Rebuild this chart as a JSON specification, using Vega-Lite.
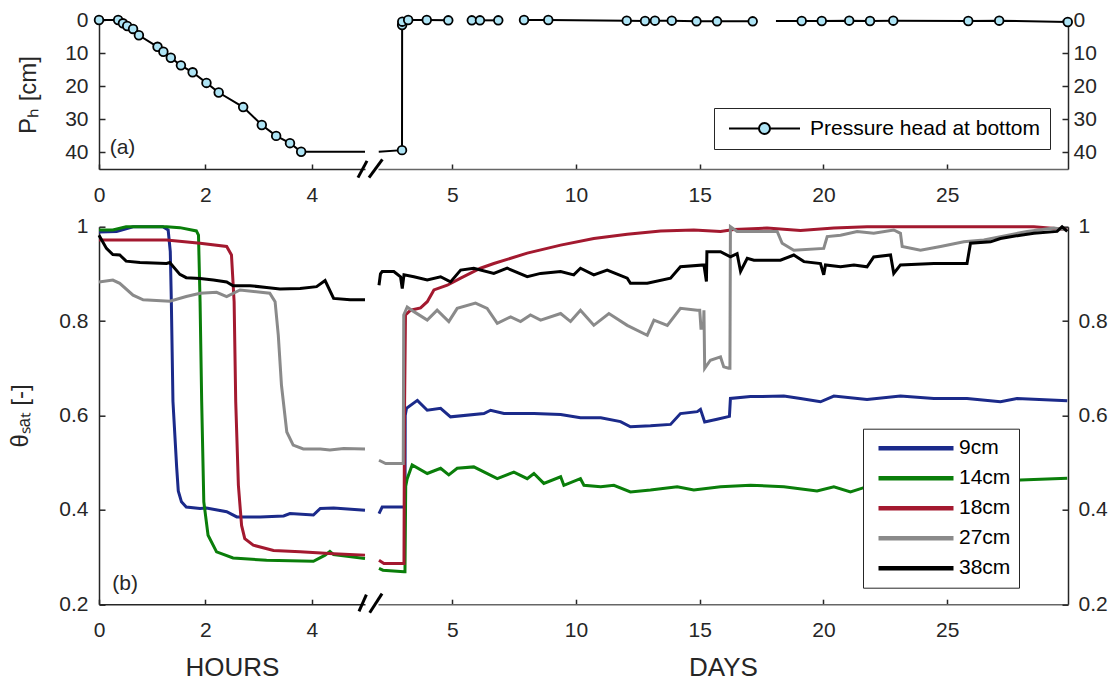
{
"$schema": "https://vega.github.io/schema/vega-lite/v6.json",
"padding": {"left": 8, "top": 9, "right": 5, "bottom": 5},
"config": {
 "view": {"stroke": null},
 "font": "Liberation Sans",
 "axis": {"labelFont": "Liberation Sans", "labelFontSize": 21, "labelColor": "#262626", "titleFont": "Liberation Sans", "titleFontSize": 24, "titleFontWeight": "normal", "titleColor": "#262626", "domainColor": "#262626", "domainWidth": 1.5, "tickColor": "#262626", "tickWidth": 1.5, "tickSize": -5, "grid": false, "labelFlush": false, "labelOverlap": false}
},
"datasets": {
 "phh": [{"t":0,"v":0,"m":1},{"t":0.36,"v":0,"m":1},{"t":0.45,"v":1.0,"m":1},{"t":0.53,"v":1.8,"m":1},{"t":0.64,"v":2.7,"m":1},{"t":0.75,"v":4.6,"m":1},{"t":1.1,"v":8.1,"m":1},{"t":1.21,"v":9.6,"m":1},{"t":1.35,"v":11.4,"m":1},{"t":1.54,"v":13.7,"m":1},{"t":1.76,"v":15.8,"m":1},{"t":2.02,"v":19.0,"m":1},{"t":2.25,"v":21.9,"m":1},{"t":2.71,"v":26.3,"m":1},{"t":3.06,"v":31.7,"m":1},{"t":3.33,"v":35.0,"m":1},{"t":3.59,"v":37.2,"m":1},{"t":3.8,"v":39.8,"m":1},{"t":5.0,"v":39.8,"m":0}],
 "phd": [{"g":1,"t":2.03,"v":39.8,"m":0},{"g":1,"t":2.97,"v":39.3,"m":1},{"g":1,"t":2.975,"v":1.5,"m":1},{"g":1,"t":2.98,"v":0.5,"m":1},{"g":1,"t":3.22,"v":0,"m":1},{"g":1,"t":3.97,"v":0,"m":1},{"g":1,"t":4.84,"v":0.1,"m":1},
  {"g":2,"t":5.79,"v":0.1,"m":1},{"g":2,"t":6.12,"v":0.1,"m":1},{"g":2,"t":6.86,"v":0.1,"m":1},
  {"g":3,"t":7.9,"v":0,"m":1},{"g":3,"t":8.88,"v":0,"m":1},{"g":3,"t":12.05,"v":0.2,"m":1},{"g":3,"t":12.79,"v":0.3,"m":1},{"g":3,"t":13.19,"v":0.2,"m":1},{"g":3,"t":13.87,"v":0.2,"m":1},{"g":3,"t":14.87,"v":0.4,"m":1},{"g":3,"t":15.7,"v":0.4,"m":1},{"g":3,"t":17.14,"v":0.4,"m":1},
  {"g":4,"t":18.08,"v":0.3,"m":0},{"g":4,"t":19.12,"v":0.3,"m":1},{"g":4,"t":19.93,"v":0.3,"m":1},{"g":4,"t":21.04,"v":0.2,"m":1},{"g":4,"t":21.88,"v":0.3,"m":1},{"g":4,"t":22.82,"v":0.2,"m":1},{"g":4,"t":25.85,"v":0.3,"m":1},{"g":4,"t":27.1,"v":0.2,"m":1},{"g":4,"t":29.87,"v":0.6,"m":1}],
 "thh": [
  {"s":"9cm","t":0,"v":0.989},{"s":"9cm","t":0.33,"v":0.99},{"s":"9cm","t":0.64,"v":1.0},{"s":"9cm","t":1.2,"v":1.0},{"s":"9cm","t":1.3,"v":0.993},{"s":"9cm","t":1.34,"v":0.947},{"s":"9cm","t":1.36,"v":0.84},{"s":"9cm","t":1.39,"v":0.63},{"s":"9cm","t":1.46,"v":0.49},{"s":"9cm","t":1.49,"v":0.44},{"s":"9cm","t":1.55,"v":0.417},{"s":"9cm","t":1.64,"v":0.406},{"s":"9cm","t":1.9,"v":0.403},{"s":"9cm","t":2.02,"v":0.404},{"s":"9cm","t":2.4,"v":0.396},{"s":"9cm","t":2.59,"v":0.385},{"s":"9cm","t":3.03,"v":0.385},{"s":"9cm","t":3.47,"v":0.387},{"s":"9cm","t":3.59,"v":0.392},{"s":"9cm","t":4.03,"v":0.389},{"s":"9cm","t":4.16,"v":0.403},{"s":"9cm","t":4.41,"v":0.404},{"s":"9cm","t":5.0,"v":0.399},
  {"s":"14cm","t":0,"v":0.993},{"s":"14cm","t":0.26,"v":0.993},{"s":"14cm","t":0.51,"v":1.0},{"s":"14cm","t":1.27,"v":1.0},{"s":"14cm","t":1.52,"v":0.998},{"s":"14cm","t":1.83,"v":0.991},{"s":"14cm","t":1.87,"v":0.982},{"s":"14cm","t":1.9,"v":0.84},{"s":"14cm","t":1.93,"v":0.63},{"s":"14cm","t":1.97,"v":0.417},{"s":"14cm","t":2.05,"v":0.346},{"s":"14cm","t":2.21,"v":0.311},{"s":"14cm","t":2.52,"v":0.298},{"s":"14cm","t":3.15,"v":0.293},{"s":"14cm","t":4.03,"v":0.291},{"s":"14cm","t":4.25,"v":0.304},{"s":"14cm","t":4.34,"v":0.312},{"s":"14cm","t":4.41,"v":0.305},{"s":"14cm","t":5.0,"v":0.297},
  {"s":"18cm","t":0,"v":0.972},{"s":"18cm","t":1.27,"v":0.972},{"s":"18cm","t":1.9,"v":0.965},{"s":"18cm","t":2.4,"v":0.958},{"s":"18cm","t":2.49,"v":0.94},{"s":"18cm","t":2.54,"v":0.841},{"s":"18cm","t":2.57,"v":0.629},{"s":"18cm","t":2.62,"v":0.452},{"s":"18cm","t":2.68,"v":0.367},{"s":"18cm","t":2.74,"v":0.339},{"s":"18cm","t":2.9,"v":0.325},{"s":"18cm","t":3.28,"v":0.314},{"s":"18cm","t":3.78,"v":0.311},{"s":"18cm","t":4.41,"v":0.307},{"s":"18cm","t":5.0,"v":0.304},
  {"s":"27cm","t":0,"v":0.883},{"s":"27cm","t":0.26,"v":0.887},{"s":"27cm","t":0.39,"v":0.88},{"s":"27cm","t":0.64,"v":0.855},{"s":"27cm","t":0.83,"v":0.845},{"s":"27cm","t":1.33,"v":0.842},{"s":"27cm","t":1.64,"v":0.852},{"s":"27cm","t":1.9,"v":0.859},{"s":"27cm","t":2.21,"v":0.861},{"s":"27cm","t":2.4,"v":0.852},{"s":"27cm","t":2.65,"v":0.866},{"s":"27cm","t":3.21,"v":0.859},{"s":"27cm","t":3.31,"v":0.841},{"s":"27cm","t":3.37,"v":0.77},{"s":"27cm","t":3.43,"v":0.664},{"s":"27cm","t":3.53,"v":0.565},{"s":"27cm","t":3.65,"v":0.537},{"s":"27cm","t":3.84,"v":0.529},{"s":"27cm","t":4.16,"v":0.529},{"s":"27cm","t":4.34,"v":0.527},{"s":"27cm","t":4.6,"v":0.53},{"s":"27cm","t":5.0,"v":0.529},
  {"s":"38cm","t":0,"v":0.982},{"s":"38cm","t":0.14,"v":0.954},{"s":"38cm","t":0.26,"v":0.941},{"s":"38cm","t":0.39,"v":0.94},{"s":"38cm","t":0.51,"v":0.927},{"s":"38cm","t":0.77,"v":0.924},{"s":"38cm","t":1.27,"v":0.922},{"s":"38cm","t":1.33,"v":0.924},{"s":"38cm","t":1.52,"v":0.899},{"s":"38cm","t":1.64,"v":0.892},{"s":"38cm","t":1.9,"v":0.89},{"s":"38cm","t":2.15,"v":0.887},{"s":"38cm","t":2.4,"v":0.883},{"s":"38cm","t":2.52,"v":0.875},{"s":"38cm","t":2.84,"v":0.875},{"s":"38cm","t":3.15,"v":0.871},{"s":"38cm","t":3.4,"v":0.868},{"s":"38cm","t":3.78,"v":0.869},{"s":"38cm","t":4.09,"v":0.873},{"s":"38cm","t":4.25,"v":0.886},{"s":"38cm","t":4.41,"v":0.848},{"s":"38cm","t":4.72,"v":0.845},{"s":"38cm","t":5.0,"v":0.845}],
 "thd": [
  {"s":"9cm","t":2.04,"v":0.392},{"s":"9cm","t":2.17,"v":0.406},{"s":"9cm","t":2.91,"v":0.406},{"s":"9cm","t":3.09,"v":0.406},{"s":"9cm","t":3.1,"v":0.6},{"s":"9cm","t":3.15,"v":0.615},{"s":"9cm","t":3.59,"v":0.632},{"s":"9cm","t":3.99,"v":0.611},{"s":"9cm","t":4.53,"v":0.615},{"s":"9cm","t":4.93,"v":0.597},{"s":"9cm","t":6.28,"v":0.604},{"s":"9cm","t":6.55,"v":0.611},{"s":"9cm","t":7.09,"v":0.604},{"s":"9cm","t":8.3,"v":0.604},{"s":"9cm","t":9.38,"v":0.602},{"s":"9cm","t":10.18,"v":0.595},{"s":"9cm","t":11.0,"v":0.595},{"s":"9cm","t":11.8,"v":0.587},{"s":"9cm","t":12.2,"v":0.576},{"s":"9cm","t":13.01,"v":0.578},{"s":"9cm","t":13.82,"v":0.581},{"s":"9cm","t":14.22,"v":0.604},{"s":"9cm","t":14.9,"v":0.608},{"s":"9cm","t":15.03,"v":0.613},{"s":"9cm","t":15.2,"v":0.586},{"s":"9cm","t":15.7,"v":0.592},{"s":"9cm","t":16.2,"v":0.598},{"s":"9cm","t":16.24,"v":0.636},{"s":"9cm","t":17.05,"v":0.64},{"s":"9cm","t":18.4,"v":0.641},{"s":"9cm","t":19.07,"v":0.636},{"s":"9cm","t":19.88,"v":0.629},{"s":"9cm","t":20.42,"v":0.641},{"s":"9cm","t":21.76,"v":0.634},{"s":"9cm","t":23.11,"v":0.641},{"s":"9cm","t":24.46,"v":0.636},{"s":"9cm","t":25.8,"v":0.636},{"s":"9cm","t":27.15,"v":0.629},{"s":"9cm","t":27.82,"v":0.636},{"s":"9cm","t":29.85,"v":0.631},
  {"s":"14cm","t":2.04,"v":0.276},{"s":"14cm","t":2.2,"v":0.272},{"s":"14cm","t":3.05,"v":0.269},{"s":"14cm","t":3.09,"v":0.269},{"s":"14cm","t":3.12,"v":0.45},{"s":"14cm","t":3.18,"v":0.466},{"s":"14cm","t":3.38,"v":0.495},{"s":"14cm","t":3.99,"v":0.477},{"s":"14cm","t":4.53,"v":0.488},{"s":"14cm","t":4.86,"v":0.474},{"s":"14cm","t":5.2,"v":0.488},{"s":"14cm","t":5.87,"v":0.491},{"s":"14cm","t":6.82,"v":0.466},{"s":"14cm","t":7.49,"v":0.48},{"s":"14cm","t":8.03,"v":0.466},{"s":"14cm","t":8.3,"v":0.477},{"s":"14cm","t":8.7,"v":0.456},{"s":"14cm","t":9.38,"v":0.47},{"s":"14cm","t":9.51,"v":0.452},{"s":"14cm","t":10.18,"v":0.466},{"s":"14cm","t":10.32,"v":0.452},{"s":"14cm","t":11.0,"v":0.449},{"s":"14cm","t":11.53,"v":0.452},{"s":"14cm","t":12.2,"v":0.438},{"s":"14cm","t":13.01,"v":0.442},{"s":"14cm","t":14.09,"v":0.449},{"s":"14cm","t":14.76,"v":0.442},{"s":"14cm","t":15.84,"v":0.449},{"s":"14cm","t":17.05,"v":0.452},{"s":"14cm","t":18.4,"v":0.449},{"s":"14cm","t":19.74,"v":0.44},{"s":"14cm","t":20.42,"v":0.449},{"s":"14cm","t":21.09,"v":0.438},{"s":"14cm","t":21.63,"v":0.447},{"s":"14cm","t":23.0,"v":0.45},{"s":"14cm","t":24.5,"v":0.452},{"s":"14cm","t":26.0,"v":0.455},{"s":"14cm","t":27.5,"v":0.46},{"s":"14cm","t":27.96,"v":0.463},{"s":"14cm","t":29.85,"v":0.467},
  {"s":"18cm","t":2.04,"v":0.293},{"s":"18cm","t":2.24,"v":0.286},{"s":"18cm","t":2.91,"v":0.286},{"s":"18cm","t":3.05,"v":0.286},{"s":"18cm","t":3.07,"v":0.6},{"s":"18cm","t":3.11,"v":0.813},{"s":"18cm","t":3.32,"v":0.823},{"s":"18cm","t":3.72,"v":0.828},{"s":"18cm","t":3.99,"v":0.841},{"s":"18cm","t":4.26,"v":0.866},{"s":"18cm","t":4.8,"v":0.876},{"s":"18cm","t":5.34,"v":0.891},{"s":"18cm","t":6.14,"v":0.912},{"s":"18cm","t":6.68,"v":0.922},{"s":"18cm","t":8.03,"v":0.944},{"s":"18cm","t":9.38,"v":0.961},{"s":"18cm","t":10.72,"v":0.975},{"s":"18cm","t":12.07,"v":0.984},{"s":"18cm","t":13.42,"v":0.991},{"s":"18cm","t":14.76,"v":0.993},{"s":"18cm","t":15.84,"v":0.99},{"s":"18cm","t":16.38,"v":0.994},{"s":"18cm","t":17.72,"v":0.997},{"s":"18cm","t":19.07,"v":0.992},{"s":"18cm","t":20.42,"v":0.997},{"s":"18cm","t":21.76,"v":1.0},{"s":"18cm","t":24.46,"v":1.0},{"s":"18cm","t":27.15,"v":1.0},{"s":"18cm","t":28.5,"v":1.0},{"s":"18cm","t":29.85,"v":0.994},
  {"s":"27cm","t":2.04,"v":0.505},{"s":"27cm","t":2.31,"v":0.498},{"s":"27cm","t":2.91,"v":0.498},{"s":"27cm","t":3.02,"v":0.498},{"s":"27cm","t":3.04,"v":0.813},{"s":"27cm","t":3.18,"v":0.83},{"s":"27cm","t":3.45,"v":0.82},{"s":"27cm","t":3.99,"v":0.802},{"s":"27cm","t":4.39,"v":0.823},{"s":"27cm","t":4.86,"v":0.799},{"s":"27cm","t":5.2,"v":0.827},{"s":"27cm","t":5.94,"v":0.838},{"s":"27cm","t":6.41,"v":0.827},{"s":"27cm","t":6.82,"v":0.795},{"s":"27cm","t":7.36,"v":0.809},{"s":"27cm","t":7.76,"v":0.799},{"s":"27cm","t":8.16,"v":0.813},{"s":"27cm","t":8.57,"v":0.802},{"s":"27cm","t":9.38,"v":0.816},{"s":"27cm","t":9.78,"v":0.799},{"s":"27cm","t":10.18,"v":0.823},{"s":"27cm","t":10.72,"v":0.791},{"s":"27cm","t":11.33,"v":0.816},{"s":"27cm","t":12.07,"v":0.791},{"s":"27cm","t":12.88,"v":0.77},{"s":"27cm","t":13.15,"v":0.802},{"s":"27cm","t":13.69,"v":0.791},{"s":"27cm","t":14.22,"v":0.827},{"s":"27cm","t":14.9,"v":0.823},{"s":"27cm","t":15.0,"v":0.823},{"s":"27cm","t":15.05,"v":0.785},{"s":"27cm","t":15.15,"v":0.785},{"s":"27cm","t":15.17,"v":0.823},{"s":"27cm","t":15.2,"v":0.7},{"s":"27cm","t":15.43,"v":0.717},{"s":"27cm","t":15.84,"v":0.724},{"s":"27cm","t":15.97,"v":0.703},{"s":"27cm","t":16.17,"v":0.7},{"s":"27cm","t":16.22,"v":0.7},{"s":"27cm","t":16.24,"v":1.0},{"s":"27cm","t":16.51,"v":0.99},{"s":"27cm","t":18.13,"v":0.99},{"s":"27cm","t":18.33,"v":0.965},{"s":"27cm","t":18.8,"v":0.95},{"s":"27cm","t":20.01,"v":0.954},{"s":"27cm","t":20.15,"v":0.979},{"s":"27cm","t":20.69,"v":0.982},{"s":"27cm","t":21.36,"v":0.99},{"s":"27cm","t":22.03,"v":0.986},{"s":"27cm","t":22.84,"v":0.993},{"s":"27cm","t":23.11,"v":0.986},{"s":"27cm","t":23.18,"v":0.958},{"s":"27cm","t":23.92,"v":0.95},{"s":"27cm","t":24.73,"v":0.958},{"s":"27cm","t":25.67,"v":0.968},{"s":"27cm","t":26.48,"v":0.972},{"s":"27cm","t":27.15,"v":0.979},{"s":"27cm","t":28.23,"v":0.99},{"s":"27cm","t":29.31,"v":0.997},{"s":"27cm","t":29.85,"v":0.993},
  {"s":"38cm","t":2.04,"v":0.876},{"s":"38cm","t":2.1,"v":0.9},{"s":"38cm","t":2.17,"v":0.905},{"s":"38cm","t":2.64,"v":0.905},{"s":"38cm","t":2.91,"v":0.894},{"s":"38cm","t":2.98,"v":0.869},{"s":"38cm","t":3.05,"v":0.898},{"s":"38cm","t":3.45,"v":0.894},{"s":"38cm","t":3.99,"v":0.887},{"s":"38cm","t":4.53,"v":0.894},{"s":"38cm","t":4.93,"v":0.883},{"s":"38cm","t":5.34,"v":0.908},{"s":"38cm","t":5.87,"v":0.912},{"s":"38cm","t":6.68,"v":0.901},{"s":"38cm","t":7.22,"v":0.912},{"s":"38cm","t":8.03,"v":0.894},{"s":"38cm","t":8.57,"v":0.901},{"s":"38cm","t":9.38,"v":0.905},{"s":"38cm","t":9.91,"v":0.898},{"s":"38cm","t":10.18,"v":0.912},{"s":"38cm","t":10.72,"v":0.898},{"s":"38cm","t":11.26,"v":0.908},{"s":"38cm","t":12.07,"v":0.891},{"s":"38cm","t":12.2,"v":0.88},{"s":"38cm","t":12.88,"v":0.88},{"s":"38cm","t":13.82,"v":0.891},{"s":"38cm","t":14.22,"v":0.915},{"s":"38cm","t":15.17,"v":0.919},{"s":"38cm","t":15.27,"v":0.884},{"s":"38cm","t":15.29,"v":0.947},{"s":"38cm","t":15.57,"v":0.947},{"s":"38cm","t":15.84,"v":0.947},{"s":"38cm","t":16.24,"v":0.936},{"s":"38cm","t":16.51,"v":0.943},{"s":"38cm","t":16.65,"v":0.905},{"s":"38cm","t":16.92,"v":0.933},{"s":"38cm","t":17.19,"v":0.929},{"s":"38cm","t":18.26,"v":0.929},{"s":"38cm","t":18.8,"v":0.94},{"s":"38cm","t":19.21,"v":0.926},{"s":"38cm","t":19.88,"v":0.922},{"s":"38cm","t":20.01,"v":0.898},{"s":"38cm","t":20.08,"v":0.919},{"s":"38cm","t":20.69,"v":0.915},{"s":"38cm","t":21.23,"v":0.919},{"s":"38cm","t":21.76,"v":0.915},{"s":"38cm","t":22.03,"v":0.936},{"s":"38cm","t":22.71,"v":0.94},{"s":"38cm","t":22.84,"v":0.901},{"s":"38cm","t":23.11,"v":0.919},{"s":"38cm","t":24.46,"v":0.922},{"s":"38cm","t":25.8,"v":0.922},{"s":"38cm","t":25.94,"v":0.965},{"s":"38cm","t":26.75,"v":0.968},{"s":"38cm","t":27.15,"v":0.975},{"s":"38cm","t":27.96,"v":0.982},{"s":"38cm","t":28.5,"v":0.986},{"s":"38cm","t":29.44,"v":0.99},{"s":"38cm","t":29.64,"v":1.0},{"s":"38cm","t":29.85,"v":0.99}]
},
"columns": 2,
"spacing": {"row": 57.7, "column": 13},
"bounds": "flush",
"align": "each",
"resolve": {"scale": {"x": "independent", "y": "independent", "color": "independent", "stroke": "independent"}, "axis": {"x": "independent", "y": "independent"}, "legend": {"color": "independent", "stroke": "independent"}},
"concat": [
 {
  "width": 266, "height": 149,
  "encoding": {
   "x": {"field": "t", "type": "quantitative", "scale": {"domain": [0, 5], "nice": false, "zero": false}, "axis": {"values": [0, 2, 4], "title": null, "labelPadding": 20}},
   "y": {"field": "v", "type": "quantitative", "scale": {"domain": [0, 45], "reverse": true, "nice": false, "zero": false}, "axis": {"values": [0, 10, 20, 30, 40], "title": "Pₕ [cm]", "titleX": -64, "titleY": 74.5, "titleAngle": 270, "titleBaseline": "alphabetic", "titleAlign": "center", "labelPadding": 17, "tickSize": -6}}
  },
  "layer": [
   {"data": {"name": "phh"}, "mark": {"type": "line", "color": "black", "strokeWidth": 2}},
   {"data": {"name": "phh"}, "transform": [{"filter": "datum.m == 1"}], "mark": {"type": "point", "shape": "circle", "filled": true, "fill": "#aee4f5", "stroke": "black", "strokeWidth": 1.8, "size": 75, "opacity": 1}},
   {"data": {"values": [{"t": 4.868, "t2": 5.038, "v": 47.6, "v2": 42.55}, {"t": 5.075, "t2": 5.327, "v": 47.6, "v2": 42.07}]}, "mark": {"type": "rule", "color": "black", "strokeWidth": 3}, "encoding": {"x2": {"field": "t2"}, "y2": {"field": "v2"}}},
   {"data": {"values": [{"t": 0.2, "v": 38.8, "lab": "(a)"}]}, "mark": {"type": "text", "align": "left", "baseline": "middle", "fontSize": 21, "font": "Liberation Sans", "color": "#262626"}, "encoding": {"text": {"field": "lab"}}}
  ]
 },
 {
  "width": 690, "height": 149,
  "encoding": {
   "x": {"field": "t", "type": "quantitative", "scale": {"domain": [2, 29.88], "nice": false, "zero": false}, "axis": {"values": [5, 10, 15, 20, 25], "title": null, "labelPadding": 20, "domainColor": "#666"}},
   "y": {"field": "v", "type": "quantitative", "scale": {"domain": [0, 45], "reverse": true, "nice": false, "zero": false}, "axis": {"orient": "right", "values": [0, 10, 20, 30, 40], "title": null, "labelPadding": 11, "tickSize": -6}}
  },
  "layer": [
   {"data": {"name": "phd"}, "mark": {"type": "line", "strokeWidth": 2},
    "encoding": {"detail": {"field": "g"}, "stroke": {"datum": "Pressure head at bottom", "type": "nominal", "scale": {"range": ["black"]}, "legend": {"title": null, "orient": "none", "legendX": 336, "legendY": 88, "symbolType": "M-1,0H-0.155M0.155,0H1M0.155,0A0.155,0.155,0,1,1,-0.155,0A0.155,0.155,0,1,1,0.155,0Z", "symbolSize": 5041, "symbolStrokeWidth": 2, "symbolFillColor": "#aee4f5", "symbolStrokeColor": "black", "labelFontSize": 21, "labelFont": "Liberation Sans", "labelColor": "black", "labelLimit": 400, "padding": 10, "symbolOffset": 4, "labelOffset": 9, "strokeColor": "#262626", "fillColor": "white", "clipHeight": 21}}}},
   {"data": {"name": "phd"}, "transform": [{"filter": "datum.m == 1"}], "mark": {"type": "point", "shape": "circle", "filled": true, "fill": "#aee4f5", "stroke": "black", "strokeWidth": 1.8, "size": 75, "opacity": 1}}
  ]
 },
 {
  "width": 266, "height": 377.5,
  "encoding": {
   "x": {"field": "t", "type": "quantitative", "scale": {"domain": [0, 5], "nice": false, "zero": false}, "axis": {"values": [0, 2, 4], "title": "HOURS", "titleFontSize": 26, "titleY": 71.5, "titleBaseline": "alphabetic", "labelPadding": 20}},
   "y": {"field": "v", "type": "quantitative", "scale": {"domain": [0.2, 1], "nice": false, "zero": false}, "axis": {"values": [0.2, 0.4, 0.6, 0.8, 1], "format": "~g", "title": "θₛₐₜ [-]", "titleX": -72, "titleY": 188.75, "titleAngle": 270, "titleBaseline": "alphabetic", "titleAlign": "center", "labelPadding": 17, "tickSize": -6}}
  },
  "layer": [
   {"data": {"name": "thh"}, "mark": {"type": "line", "strokeWidth": 3},
    "encoding": {"color": {"field": "s", "type": "nominal", "sort": null, "scale": {"domain": ["9cm", "14cm", "18cm", "27cm", "38cm"], "range": ["#1b2a8a", "#0a7e0a", "#a3192f", "#8a8a8a", "#000000"]}, "legend": null}}},
   {"data": {"values": [{"t": 4.887, "t2": 5.026, "v": 0.185, "v2": 0.2203}, {"t": 5.088, "t2": 5.32, "v": 0.182, "v2": 0.2224}]}, "mark": {"type": "rule", "color": "black", "strokeWidth": 3}, "encoding": {"x2": {"field": "t2"}, "y2": {"field": "v2"}}},
   {"data": {"values": [{"t": 0.25, "v": 0.2436, "lab": "(b)"}]}, "mark": {"type": "text", "align": "left", "baseline": "middle", "fontSize": 21, "font": "Liberation Sans", "color": "#262626"}, "encoding": {"text": {"field": "lab"}}}
  ]
 },
 {
  "width": 690, "height": 377.5,
  "encoding": {
   "x": {"field": "t", "type": "quantitative", "scale": {"domain": [2, 29.88], "nice": false, "zero": false}, "axis": {"values": [5, 10, 15, 20, 25], "title": "DAYS", "titleFontSize": 26, "titleY": 71.5, "titleBaseline": "alphabetic", "labelPadding": 20, "domainColor": "#666"}},
   "y": {"field": "v", "type": "quantitative", "scale": {"domain": [0.2, 1], "nice": false, "zero": false}, "axis": {"orient": "right", "values": [0.2, 0.4, 0.6, 0.8, 1], "format": "~g", "title": null, "labelPadding": 16, "tickSize": -6}}
  },
  "layer": [
   {"data": {"name": "thd"}, "mark": {"type": "line", "strokeWidth": 3},
    "encoding": {"color": {"field": "s", "type": "nominal", "sort": null, "scale": {"domain": ["9cm", "14cm", "18cm", "27cm", "38cm"], "range": ["#1b2a8a", "#0a7e0a", "#a3192f", "#8a8a8a", "#000000"]}, "legend": {"title": null, "orient": "none", "legendX": 485, "legendY": 202, "symbolType": "stroke", "symbolSize": 5625, "symbolStrokeWidth": 4.5, "labelFontSize": 21, "labelFont": "Liberation Sans", "labelColor": "black", "padding": 8, "symbolOffset": 5, "labelOffset": 3, "rowPadding": 7, "clipHeight": 23, "strokeColor": "#262626", "fillColor": "white"}}}}
  ]
 }
]
}
